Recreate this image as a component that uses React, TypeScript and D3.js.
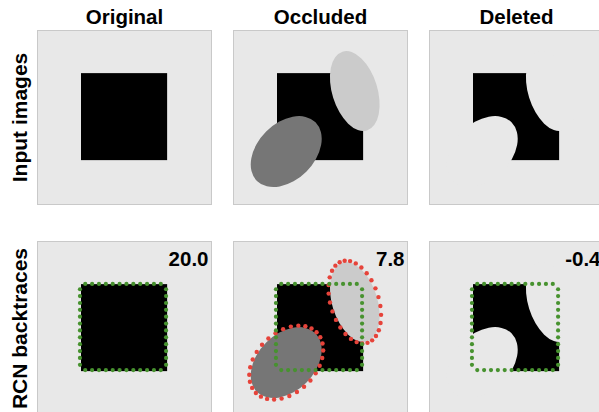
import * as d3 from "d3";
import { useEffect, useRef } from "react";

const columns = ["Original", "Occluded", "Deleted"];
const rows = ["Input images", "RCN backtraces"];
const scores = [20.0, 7.8, -0.4];

// image content, in the 0..1 space of one panel
const squareBox = [0.25, 0.245, 0.745, 0.745]; // x0, y0, x1, y1
const occluderCenters = [[0.303, 0.696], [0.697, 0.348]];
const occluderRadii = [[0.238, 0.163], [0.237, 0.13]];
const occluderAngles = [-45, 72.7];

// backtraces: green dots round the square, red dots round the occluders
const traceBox = [0.244, 0.244, 0.739, 0.739];
const tracePerSide = 12;
const occluderTraceCounts = [30, 29];

const WIDTH = 599;
const HEIGHT = 412;
const PANEL = 174;
const FONT = "'Liberation Sans', Arial, Helvetica, sans-serif";

const colors = {
    panel: "#e8e8e8",
    border: "#c9c9c9",
    shape: "#000000",
    occluders: ["#767676", "#cbcbcb"],
    green: "#47922f",
    red: "#e6433a",
};

export default function App() {
    const ref = useRef<SVGSVGElement>(null);

    useEffect(() => {
        if (!ref.current) return;
        const svg = d3.select(ref.current);
        svg.selectAll("*").remove();

        const x = d3.scalePoint<string>().domain(columns).range([37.5, 429.5]);
        const y = d3.scalePoint<string>().domain(rows).range([30.5, 241.5]);
        const u = d3.scaleLinear().domain([0, 1]).range([0, PANEL]);

        // column titles
        svg.selectAll(".title")
            .data(columns)
            .enter()
            .append("text")
            .attr("class", "title")
            .attr("x", d => x(d)! + PANEL / 2)
            .attr("y", 24)
            .attr("text-anchor", "middle")
            .attr("font-family", FONT)
            .attr("font-weight", "bold")
            .attr("font-size", 20.5)
            .text(d => d);

        // row labels
        svg.selectAll(".rowlabel")
            .data(rows)
            .enter()
            .append("text")
            .attr("class", "rowlabel")
            .attr("transform", d => `translate(27, ${y(d)! + PANEL / 2}) rotate(-90)`)
            .attr("text-anchor", "middle")
            .attr("font-family", FONT)
            .attr("font-weight", "bold")
            .attr("font-size", 21)
            .text(d => d);

        // points of the square backtrace
        const [tx0, ty0, tx1, ty1] = traceBox;
        const along = (a: number, b: number) =>
            d3.scalePoint<number>().domain(d3.range(tracePerSide)).range([a, b]).padding(0.77);
        const sx = along(tx0, tx1);
        const sy = along(ty0, ty1);
        const squareTrace: [number, number][] = [];
        d3.range(tracePerSide).forEach(i => {
            squareTrace.push([sx(i)!, ty0]);
            squareTrace.push([sx(i)!, ty1]);
            squareTrace.push([tx0, sy(i)!]);
            squareTrace.push([tx1, sy(i)!]);
        });

        // points of the occluder backtraces, just outside each ellipse
        const pad = 1.5 / PANEL;
        const occluderTrace: [number, number][] = [];
        occluderCenters.forEach(([cx, cy], k) => {
            const [rx, ry] = occluderRadii[k];
            const th = (occluderAngles[k] * Math.PI) / 180;
            d3.range(occluderTraceCounts[k]).forEach(j => {
                const t = (2 * Math.PI * j) / occluderTraceCounts[k];
                const ex = (rx + pad) * Math.cos(t);
                const ey = (ry + pad) * Math.sin(t);
                occluderTrace.push([
                    cx + ex * Math.cos(th) - ey * Math.sin(th),
                    cy + ex * Math.sin(th) + ey * Math.cos(th),
                ]);
            });
        });

        rows.forEach((row, ri) => {
            columns.forEach((col, ci) => {
                const g = svg.append("g")
                    .attr("transform", `translate(${x(col)}, ${y(row)})`);

                g.append("rect")
                    .attr("width", PANEL)
                    .attr("height", PANEL)
                    .attr("fill", colors.panel)
                    .attr("stroke", colors.border)
                    .attr("stroke-width", 1);

                const [x0, y0, x1, y1] = squareBox;
                g.append("rect")
                    .attr("x", u(x0))
                    .attr("y", u(y0))
                    .attr("width", u(x1 - x0))
                    .attr("height", u(y1 - y0))
                    .attr("fill", colors.shape);

                if (ci > 0) {
                    // occluded: grey ellipses on top; deleted: ellipses cut out
                    g.selectAll(".occ")
                        .data(occluderCenters)
                        .enter()
                        .append("ellipse")
                        .attr("class", "occ")
                        .attr("transform", (d, k) =>
                            `translate(${u(d[0])}, ${u(d[1])}) rotate(${occluderAngles[k]})`)
                        .attr("rx", (_, k) => u(occluderRadii[k][0]))
                        .attr("ry", (_, k) => u(occluderRadii[k][1]))
                        .attr("fill", (_, k) => (ci === 1 ? colors.occluders[k] : colors.panel));
                }

                if (ri === 1) {
                    if (ci === 1) {
                        g.selectAll(".red")
                            .data(occluderTrace)
                            .enter()
                            .append("circle")
                            .attr("class", "red")
                            .attr("cx", d => u(d[0]))
                            .attr("cy", d => u(d[1]))
                            .attr("r", 2.2)
                            .attr("fill", colors.red);
                    }

                    g.selectAll(".green")
                        .data(squareTrace)
                        .enter()
                        .append("circle")
                        .attr("class", "green")
                        .attr("cx", d => u(d[0]))
                        .attr("cy", d => u(d[1]))
                        .attr("r", 2.1)
                        .attr("fill", colors.green);

                    g.append("text")
                        .attr("x", PANEL - 3)
                        .attr("y", 24.5)
                        .attr("text-anchor", "end")
                        .attr("font-family", FONT)
                        .attr("font-weight", "bold")
                        .attr("font-size", 20.5)
                        .text(scores[ci].toFixed(1));
                }
            });
        });
    }, []);

    return (
        <svg
            ref={ref}
            width={WIDTH}
            height={HEIGHT}
            style={{ position: "absolute", left: 0, top: 0, background: "#ffffff" }}
        ></svg>
    );
}
